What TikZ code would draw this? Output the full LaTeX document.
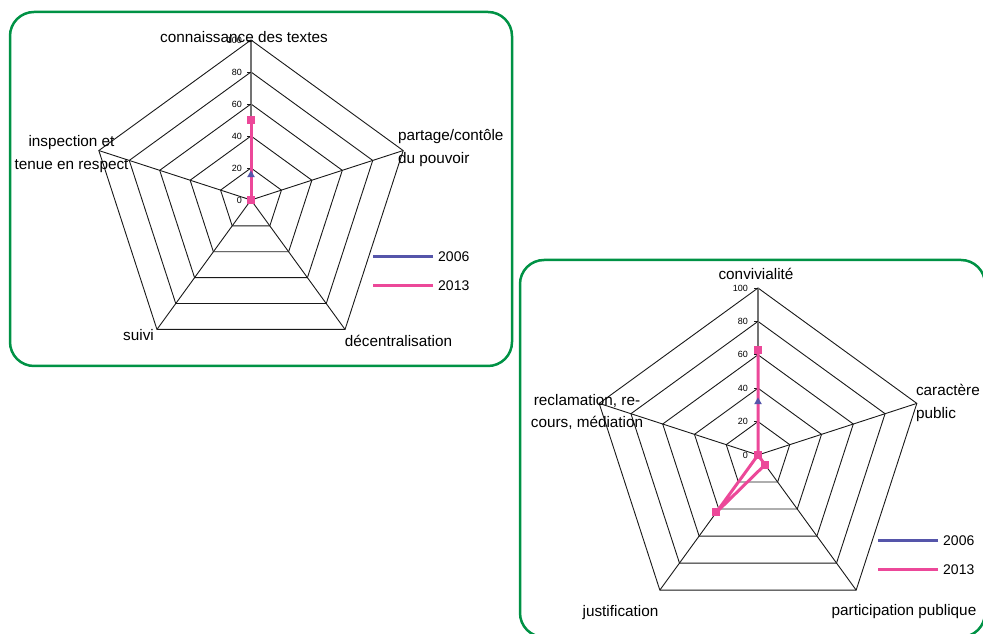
\documentclass[tikz,border=0pt]{standalone}
\usepackage{fontspec}
\setmainfont{Liberation Sans}
\usetikzlibrary{shapes.geometric}
\definecolor{framegreen}{RGB}{0,146,69}
\definecolor{serieblue}{RGB}{85,85,170}
\definecolor{seriepink}{RGB}{236,72,153}
\tikzset{%
    chart frame/.style={draw=framegreen, line width=2.5pt, rounded corners=24pt},%
    grid line/.style={draw=black!90, line width=0.9pt},%
    value axis/.style={draw=black!55, line width=1.3pt},%
    series 2006/.style={draw=serieblue, line width=2.6pt},%
    series 2013/.style={draw=seriepink, line width=3pt, line join=round},%
    mark 2013/.style={fill=seriepink, rectangle, minimum size=8pt, inner sep=0pt, outer sep=0pt},%
    mark 2006/.style={fill=serieblue, regular polygon, regular polygon sides=3,
        minimum size=9pt, inner sep=0pt, outer sep=0pt},%
    axis label/.style={font=\fontsize{15.3}{22.5}\selectfont, inner sep=0pt, outer sep=0pt},%
    tick label/.style={font=\fontsize{9}{9}\selectfont, anchor=east, inner sep=0pt},%
    legend text/.style={font=\fontsize{14}{14}\selectfont, anchor=west, inner sep=0pt}%
    }

\begin{document}
\begin{tikzpicture}[x=1pt,y=1pt]
    \useasboundingbox (0,0) rectangle (983,634);
    % les deux cadres
    \draw[chart frame] (10,622) rectangle (512,268);
    \draw[chart frame] (520,374) rectangle (985,-3);

    % radar de gauche
    \begin{scope}[shift={(251,434)}]
    \coordinate (L) at (0,0);
    \foreach \r in {32,64,...,160}
        \draw[grid line] (90:\r) -- (18:\r) -- (-54:\r) -- (-126:\r) -- (162:\r) -- cycle;
    \foreach \a in {18,-54,-126,162}
        \draw[grid line] (L) -- (\a:160);
    \draw[value axis] (L) -- (90:160);
    \foreach \v in {0,20,...,100}{
        \draw[grid line] (-4,1.6*\v) -- (0,1.6*\v);
        \node[tick label] at (-9,1.6*\v) {\v};
    }
    \coordinate (L06a) at (90:25);
    \coordinate (L13a) at (90:80);
    \draw[series 2006] (L) -- (L06a);
    \draw[series 2013] (L) -- (L13a);
    \node[mark 2013] at (L13a) {};
    \node[mark 2013] at (L) {};
    \node[mark 2006] at (L06a) {};
    \end{scope}

    \node[axis label] (connaissance) at (244,597) {connaissance des textes};
    \node[axis label, align=left, anchor=west] (partage) at (398,486)
        {partage/contôle\\du pouvoir};
    \node[axis label, align=center] (inspection) at (71.5,480)
        {inspection et\\tenue en respect};
    \node[axis label] (suivi) at (138.5,299) {suivi};
    \node[axis label] (decentral) at (398.5,293) {décentralisation};

    \node[legend text] (legL06) at (438,377.5) {2006};
    \node[legend text] (legL13) at (438,348) {2013};
    \draw[series 2006] ([xshift=-5pt]legL06.west) -- ++(-60,0);
    \draw[series 2013] ([xshift=-5pt]legL13.west) -- ++(-60,0);

    % radar de droite
    \begin{scope}[shift={(758,179)}]
    \coordinate (R) at (0,0);
    \foreach \r in {33.4,66.8,100.2,133.6,167}
        \draw[grid line] (90:\r) -- (18:\r) -- (-54:\r) -- (-126:\r) -- (162:\r) -- cycle;
    \foreach \a in {18,-54,-126,162}
        \draw[grid line] (R) -- (\a:167);
    \draw[value axis] (R) -- (90:167);
    \foreach \v in {0,20,...,100}{
        \draw[grid line] (-4,1.67*\v) -- (0,1.67*\v);
        \node[tick label] at (-10,1.67*\v) {\v};
    }
    \coordinate (R06a) at (90:53);
    \coordinate (R13a) at (90:105);
    \coordinate (R13c) at (-54:12);
    \coordinate (R13d) at (-126:71);
    \draw[series 2006] (R) -- (R06a);
    \draw[series 2013] (R13a) -- (R) -- (R13c) -- (R13d) -- (R) -- cycle;
    \foreach \p in {R13a,R,R13c,R13d}
        \node[mark 2013] at (\p) {};
    \node[mark 2006] at (R06a) {};
    \end{scope}

    \node[axis label] (convivialite) at (756,360) {convivialité};
    \node[axis label, align=left, anchor=west] (caractere) at (916,231)
        {caractère\\public};
    \node[axis label, align=center] (reclamation) at (587,222)
        {reclamation, re-\\cours, médiation};
    \node[axis label] (justification) at (620.5,21) {justification};
    \node[axis label] (participation) at (904,22) {participation publique};

    \node[legend text] (legR06) at (943,93.5) {2006};
    \node[legend text] (legR13) at (943,64) {2013};
    \draw[series 2006] ([xshift=-5pt]legR06.west) -- ++(-60,0);
    \draw[series 2013] ([xshift=-5pt]legR13.west) -- ++(-60,0);
\end{tikzpicture}
\end{document}
